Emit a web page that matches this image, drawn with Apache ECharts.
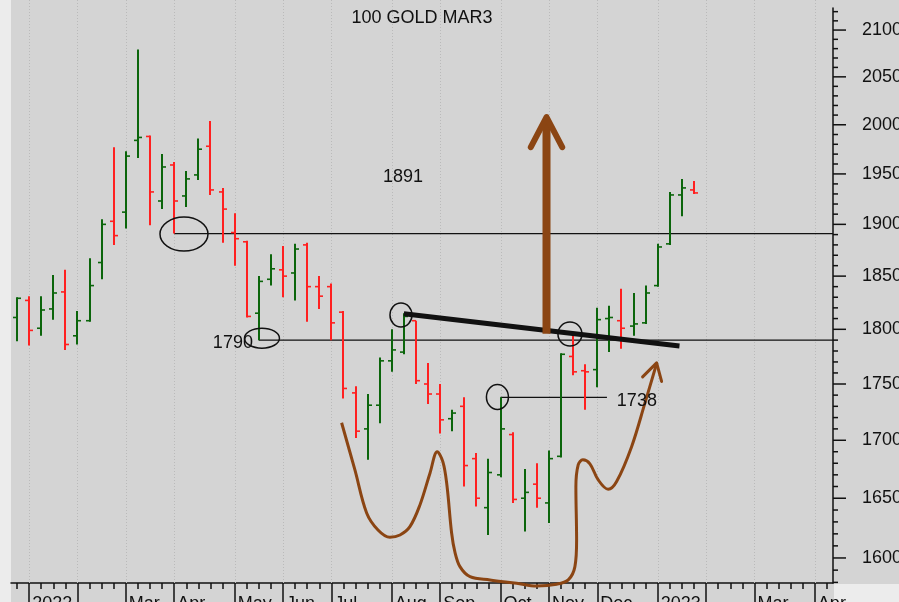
<!DOCTYPE html>
<html>
<head>
<meta charset="utf-8">
<title>100 GOLD MAR3</title>
<script src="https://cdn.jsdelivr.net/npm/echarts@6/dist/echarts.min.js"></script>
<style>
  html, body { margin: 0; padding: 0; background: #ececec; }
  #chart { width: 899px; height: 602px; }
</style>
</head>
<body>
<div id="chart"></div>
<script>
// Weekly sessions (Friday dates); the axis runs a few empty weeks past the last bar.
const weeks = [
  '2021-12-31',
  '2022-01-07', '2022-01-14', '2022-01-21', '2022-01-28',
  '2022-02-04', '2022-02-11', '2022-02-18', '2022-02-25',
  '2022-03-04', '2022-03-11', '2022-03-18', '2022-03-25',
  '2022-04-01', '2022-04-08', '2022-04-15', '2022-04-22', '2022-04-29',
  '2022-05-06', '2022-05-13', '2022-05-20', '2022-05-27',
  '2022-06-03', '2022-06-10', '2022-06-17', '2022-06-24',
  '2022-07-01', '2022-07-08', '2022-07-15', '2022-07-22', '2022-07-29',
  '2022-08-05', '2022-08-12', '2022-08-19', '2022-08-26',
  '2022-09-02', '2022-09-09', '2022-09-16', '2022-09-23', '2022-09-30',
  '2022-10-07', '2022-10-14', '2022-10-21', '2022-10-28',
  '2022-11-04', '2022-11-11', '2022-11-18', '2022-11-25',
  '2022-12-02', '2022-12-09', '2022-12-16', '2022-12-23', '2022-12-30',
  '2023-01-06', '2023-01-13', '2023-01-20', '2023-01-27',
  '2023-02-03', '2023-02-10', '2023-02-17', '2023-02-24',
  '2023-03-03', '2023-03-10', '2023-03-17', '2023-03-24', '2023-03-31',
  '2023-04-07', '2023-04-14'
];

// Weekly OHLC of the gold contract
const openPrices  = [1811,1827,1801,1819,1835,1794,1808,1863,1903,1912,1984,1988,1923,1959,1928,1949,1978,1932,1892,1883,1815,1847,1856,1853,1880,1840,1840,1816,1742,1710,1731,1771,1779,1808,1750,1741,1719,1730,1684,1642,1670,1705,1650,1662,1646,1686,1775,1762,1763,1810,1808,1803,1806,1841,1881,1929,1934];
const highPrices  = [1830,1831,1831,1851,1856,1817,1867,1905,1977,1973,2079,1989,1970,1962,1953,1986,2004,1936,1911,1884,1850,1871,1879,1881,1882,1850,1843,1817,1748,1741,1774,1800,1815,1808,1769,1750,1727,1738,1689,1684,1738,1707,1675,1680,1691,1778,1797,1768,1820,1822,1838,1834,1841,1881,1932,1945,1943];
const lowPrices   = [1789,1785,1794,1809,1781,1786,1807,1847,1880,1896,1966,1899,1915,1891,1917,1944,1929,1882,1860,1811,1790,1841,1830,1827,1807,1819,1790,1737,1702,1683,1715,1761,1777,1750,1732,1706,1708,1660,1643,1619,1668,1646,1622,1642,1629,1685,1758,1727,1747,1779,1782,1794,1805,1840,1880,1908,1930];
const closePrices = [1829,1799,1818,1834,1786,1808,1841,1900,1889,1968,1987,1932,1957,1923,1945,1975,1934,1915,1886,1812,1845,1857,1850,1876,1840,1831,1806,1746,1708,1731,1771,1781,1812,1753,1741,1718,1724,1678,1650,1672,1710,1649,1655,1650,1684,1777,1761,1761,1809,1811,1801,1805,1834,1878,1929,1936,1931];

// Price scale labels (log scale)
const priceLabels = [1600, 1650, 1700, 1750, 1800, 1850, 1900, 1950, 2000, 2050, 2100];
const monthAbbr = ['', '', 'Mar', 'Apr', 'May', 'Jun', 'Jul', 'Aug', 'Sep', 'Oct', 'Nov', 'Dec'];

// Drawn studies, in [week index, price]
const level1891 = [[13, 1891], [67.5, 1891]];
const level1790 = [[20, 1790], [67.5, 1790]];
const level1738 = [[40, 1738], [48.8, 1738]];
const neckline  = [[32, 1814.5], [54.8, 1784.6]];
const targetShaft = [[43.8, 1796], [43.8, 2003]];
const targetHead  = [[42.5, 1977], [43.8, 2008], [45.1, 1977]];
const swingPath = [
  [26.85, 1715.4], [27.95, 1674.2], [28.92, 1637.5], [29.86, 1623.2], [30.85, 1617.1],
  [31.68, 1619.0], [32.50, 1626.0], [33.33, 1644.3], [34.16, 1671.4], [34.76, 1690.0],
  [35.23, 1681.2], [35.56, 1661.3], [35.95, 1620.7], [36.22, 1605.0], [36.64, 1592.9],
  [37.47, 1584.7], [39.12, 1582.0], [41.33, 1579.3], [42.98, 1577.1], [44.64, 1578.5],
  [45.60, 1582.0], [46.15, 1592.9], [46.29, 1614.9], [46.23, 1659.8], [46.42, 1678.6],
  [46.81, 1683.0], [47.39, 1679.5], [48.08, 1665.6], [48.90, 1657.6], [49.60, 1664.2],
  [50.84, 1694.4], [51.94, 1732.8], [52.91, 1768.6]
];
const swingHead = [[51.75, 1756.4], [52.91, 1769.1], [53.32, 1752.3]];
const ringCenters = [[13.81, 1890.5], [20.26, 1791.8], [31.76, 1813.3], [39.74, 1738.3], [45.74, 1795.7]];
const noteTexts = ['1891', '1790', '1738'];
const notePlaces = [[30.27, 1946.9], [16.2, 1787], [49.62, 1734.8]];

const FONT = '"Liberation Sans", Arial, sans-serif';
const UP = '#0b650b', DOWN = '#ff2020', BROWN = '#8b4513', INK = '#111111';
const ringRadii = [[24, 17], [17.5, 10], [11, 12], [11, 12.5], [12, 12]];

const isMonthStart = (d) => +d.slice(8, 10) <= 7;
const monthLabel = (d) => {
  if (!isMonthStart(d)) return '';
  const m = +d.slice(5, 7) - 1;
  return m === 0 ? d.slice(0, 4) : monthAbbr[m];
};
const monthStarts = weeks.map((d, i) => [i, d]).filter(p => isMonthStart(p[1])).map(p => [p[0], 1800]);

const ohlc = openPrices.map((o, i) => [i, o, highPrices[i], lowPrices[i], closePrices[i]]);

const scaleTicks = [];
for (let v = 1580; v <= 2120; v += 10) scaleTicks.push([0, v]);

const chart = echarts.init(document.getElementById('chart'), null, { renderer: 'canvas' });

const lineSeries = (name, data, color, width, extra) => Object.assign({
  name, type: 'line', xAxisIndex: 2, yAxisIndex: 0, data,
  symbol: 'none', silent: true, clip: false, animation: false,
  lineStyle: { color, width, cap: 'butt' }, z: 5
}, extra || {});

chart.setOption({
  animation: false,
  backgroundColor: '#d4d4d4',
  grid: { left: 11, right: 66, top: 8, bottom: 19, containLabel: false, outerBoundsMode: 'none' },
  xAxis: [
    {
      type: 'category', data: weeks, position: 'bottom', boundaryGap: true,
      axisLine: { show: true, onZero: false, lineStyle: { color: INK, width: 1.5 } },
      axisTick: { show: true, alignWithLabel: true, interval: 0, length: 6, lineStyle: { color: INK, width: 1.5 } },
      axisLabel: {
        show: true, interval: (i, v) => isMonthStart(v), formatter: monthLabel,
        align: 'left', margin: 12, padding: [0, 0, 0, 3], hideOverlap: false,
        fontSize: 18, fontFamily: FONT, color: INK
      },
      splitLine: { show: false }
    },
    {
      type: 'category', data: weeks, position: 'bottom', boundaryGap: true,
      axisLine: { show: false, onZero: false },
      axisTick: { show: true, alignWithLabel: true, interval: (i, v) => isMonthStart(v), length: 24, lineStyle: { color: INK, width: 1.5 } },
      axisLabel: { show: false },
      splitLine: { show: false }
    },
    { type: 'value', min: -0.5, max: 67.5, show: false }
  ],
  yAxis: [{
    type: 'log', logBase: 10, min: 1579.5, max: 2124, position: 'right',
    axisLine: { show: true, onZero: false, lineStyle: { color: INK, width: 1.5 } },
    axisTick: { show: false }, axisLabel: { show: false }, splitLine: { show: false }
  }],
  graphic: [
    { type: 'rect', shape: { x: 0, y: 0, width: 11, height: 602 }, style: { fill: '#ececec' }, silent: true },
    { type: 'rect', shape: { x: 834, y: 584, width: 65, height: 18 }, style: { fill: '#ececec' }, silent: true },
    { type: 'text', x: 422, y: 18, silent: true,
      style: { text: '100 GOLD MAR3', font: '18px ' + FONT, fill: INK, align: 'center', verticalAlign: 'middle' } }
  ],
  series: [
    {
      name: 'monthGrid', type: 'custom', xAxisIndex: 0, yAxisIndex: 0, data: monthStarts, silent: true, z: 1,
      renderItem: (params, api) => {
        const x = Math.round(api.coord([api.value(0), 1800])[0]) + 0.5;
        const cs = params.coordSys;
        return { type: 'line', shape: { x1: x, y1: 0, x2: x, y2: cs.y + cs.height },
          style: { stroke: '#bababa', lineWidth: 1, lineDash: [1, 2] } };
      }
    },
    {
      name: 'priceScale', type: 'custom', xAxisIndex: 2, yAxisIndex: 0, data: scaleTicks, silent: true, z: 6,
      renderItem: (params, api) => {
        const v = api.value(1);
        const y = api.coord([0, v])[1];
        const x0 = params.coordSys.x + params.coordSys.width;
        const major = priceLabels.indexOf(v) >= 0;
        const kids = [{ type: 'line', shape: { x1: x0, y1: y, x2: x0 + (major ? 13 : 5), y2: y },
          style: { stroke: INK, lineWidth: 1.5 } }];
        if (major) {
          kids.push({ type: 'text', x: x0 + 29, y,
            style: { text: String(v), font: '18px ' + FONT, fill: INK, align: 'left', verticalAlign: 'middle' } });
        }
        return { type: 'group', children: kids };
      }
    },
    lineSeries('level1891', level1891, INK, 1.2, { z: 2 }),
    lineSeries('level1790', level1790, INK, 1.2, { z: 2 }),
    lineSeries('level1738', level1738, INK, 1.2, { z: 2 }),
    {
      name: 'GOLD', type: 'custom', xAxisIndex: 0, yAxisIndex: 0, data: ohlc, z: 3,
      encode: { x: 0, y: [1, 2, 3, 4] },
      renderItem: (params, api) => {
        const i = api.value(0);
        const o = api.value(1), h = api.value(2), l = api.value(3), c = api.value(4);
        const po = api.coord([i, o]), ph = api.coord([i, h]), pl = api.coord([i, l]), pc = api.coord([i, c]);
        const color = c >= o ? UP : DOWN;
        const x = Math.round(ph[0]);
        return { type: 'group', children: [
          { type: 'line', shape: { x1: x, y1: ph[1], x2: x, y2: pl[1] }, style: { stroke: color, lineWidth: 2 } },
          { type: 'line', shape: { x1: x - 4, y1: po[1], x2: x, y2: po[1] }, style: { stroke: color, lineWidth: 1.6 } },
          { type: 'line', shape: { x1: x, y1: pc[1], x2: x + 4, y2: pc[1] }, style: { stroke: color, lineWidth: 1.6 } }
        ] };
      }
    },
    lineSeries('neckline', neckline, INK, 5),
    lineSeries('targetShaft', targetShaft, BROWN, 8),
    lineSeries('targetHead', targetHead, BROWN, 6, { lineStyle: { color: BROWN, width: 6, cap: 'round', join: 'round' } }),
    lineSeries('swing', swingPath, BROWN, 3, { smooth: 0.35 }),
    lineSeries('swingHead', swingHead, BROWN, 3, { lineStyle: { color: BROWN, width: 3, cap: 'round', join: 'round' } }),
    {
      name: 'rings', type: 'custom', xAxisIndex: 2, yAxisIndex: 0, data: ringCenters, silent: true, z: 6,
      renderItem: (params, api) => {
        const p = api.coord([api.value(0), api.value(1)]);
        const r = ringRadii[params.dataIndex];
        return { type: 'ellipse', shape: { cx: p[0], cy: p[1], rx: r[0], ry: r[1] },
          style: { fill: null, stroke: INK, lineWidth: 1.5 } };
      }
    },
    {
      name: 'notes', type: 'custom', xAxisIndex: 2, yAxisIndex: 0, data: notePlaces, silent: true, z: 6,
      renderItem: (params, api) => {
        const p = api.coord([api.value(0), api.value(1)]);
        return { type: 'text', x: p[0], y: p[1],
          style: { text: noteTexts[params.dataIndex], font: '18px ' + FONT, fill: INK, align: 'left', verticalAlign: 'middle' } };
      }
    }
  ]
});
</script>
</body>
</html>
